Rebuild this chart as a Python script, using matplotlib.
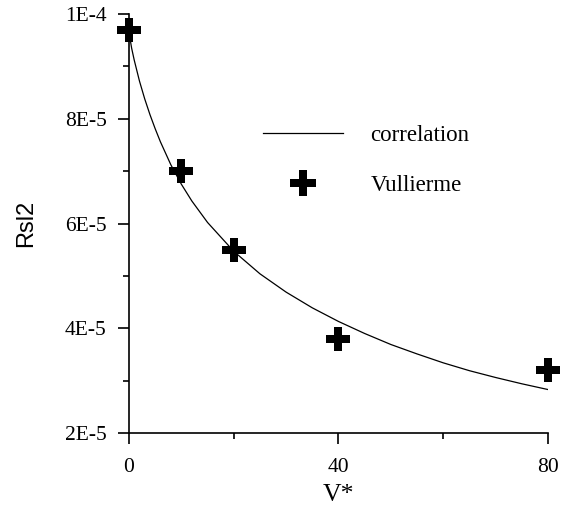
import matplotlib
matplotlib.use("Agg")
import matplotlib.pyplot as plt

# Datos
v_corr = [0, 0.5, 1, 2, 3, 4, 5, 6, 8, 10, 12, 15, 20, 25, 30, 35, 40,
          45, 50, 55, 60, 65, 70, 75, 80]
rsl2_corr = [9.65e-5, 9.35e-5, 9.12e-5, 8.72e-5, 8.38e-5, 8.08e-5, 7.81e-5,
             7.56e-5, 7.12e-5, 6.75e-5, 6.43e-5, 6.02e-5, 5.47e-5, 5.04e-5,
             4.69e-5, 4.39e-5, 4.13e-5, 3.90e-5, 3.69e-5, 3.51e-5, 3.34e-5,
             3.19e-5, 3.06e-5, 2.94e-5, 2.83e-5]

v_exp = [0, 10, 20, 40, 80]
rsl2_exp = [9.7e-5, 7.0e-5, 5.5e-5, 3.8e-5, 3.2e-5]

xticks = [0, 40, 80]
xticks_minor = [20, 60]
yticks = [2e-5, 4e-5, 6e-5, 8e-5, 1e-4]
ytick_labels = ["2E-5", "4E-5", "6E-5", "8E-5", "1E-4"]
yticks_minor = [3e-5, 5e-5, 7e-5, 9e-5]

SERIF = "Liberation Serif"
SANS = "Liberation Sans"

fig = plt.figure(figsize=(5.69, 5.08), dpi=100)
ax = fig.add_axes([0.2267, 0.1476, 0.7364, 0.8248])

ax.plot(v_corr, rsl2_corr, color="black", linewidth=0.9, label="correlation", zorder=2)
ax.plot(v_exp, rsl2_exp, linestyle="none", marker="P", markersize=17,
        color="black", markeredgewidth=0, label="Vullierme", clip_on=False, zorder=3)

ax.set_xlim(0, 80)
ax.set_ylim(2e-5, 1e-4)
ax.spines["top"].set_visible(False)
ax.spines["right"].set_visible(False)
ax.spines["left"].set_linewidth(1.2)
ax.spines["bottom"].set_linewidth(1.2)

ax.set_xticks(xticks)
ax.set_xticklabels([str(t) for t in xticks], fontfamily=SERIF, fontsize=15.5)
ax.set_xticks(xticks_minor, minor=True)
ax.set_yticks(yticks)
ax.set_yticklabels(ytick_labels, fontfamily=SERIF, fontsize=15.5)
ax.set_yticks(yticks_minor, minor=True)
ax.tick_params(which="major", direction="out", length=8, width=1.2, pad=8)
ax.tick_params(which="minor", direction="out", length=4, width=1.2)
ax.tick_params(axis="x", which="major", pad=10)

ax.set_xlabel("V*", fontfamily=SERIF, fontsize=18.5, va="center")
ax.xaxis.set_label_coords(0.5, -0.147)
ax.set_ylabel("Rsl2", fontfamily=SANS, fontsize=17, va="center")
ax.yaxis.set_label_coords(-0.246, 0.501)

ax.legend(loc="upper left", bbox_to_anchor=(0.32, 0.735), frameon=False,
          prop={"family": SERIF, "size": 16.5}, handlelength=3.5,
          handletextpad=1.18, labelspacing=1.24, borderpad=0, borderaxespad=0,
          markerscale=1.12)

plt.savefig("out.png", dpi=100)
